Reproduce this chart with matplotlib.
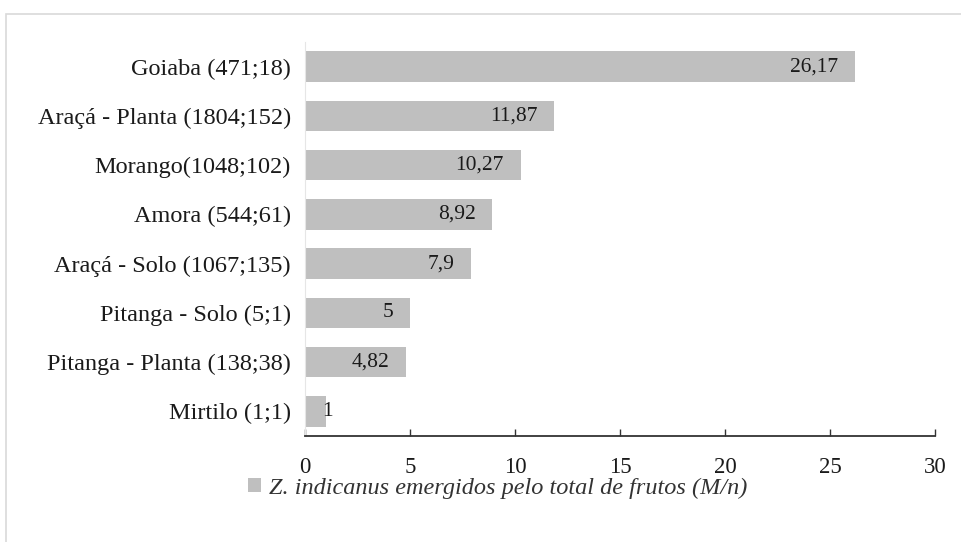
import matplotlib
matplotlib.use("Agg")
import matplotlib.pyplot as plt
from matplotlib.patches import Rectangle
from matplotlib.transforms import ScaledTranslation

categories = ["Goiaba (471;18)", "Araçá - Planta (1804;152)", "Morango(1048;102)",
              "Amora (544;61)", "Araçá - Solo (1067;135)", "Pitanga - Solo (5;1)",
              "Pitanga - Planta (138;38)", "Mirtilo (1;1)"]
values = [26.17, 11.87, 10.27, 8.92, 7.9, 5, 4.82, 1]
value_labels = ["26,17", "11,87", "10,27", "8,92", "7,9", "5", "4,82", "1"]
xticks = [0, 5, 10, 15, 20, 25, 30]
legend_label = "Z. indicanus emergidos pelo total de frutos (M/n)"

plt.rcParams['font.family'] = ['Liberation Serif', 'DejaVu Serif']

fig = plt.figure(figsize=(9.62, 5.42), dpi=100)
# chart frame
fig.patches.append(Rectangle((6/962, -0.05), 1.1, 1 - 14/542 + 0.05, transform=fig.transFigure,
                             fill=False, edgecolor='#D9D9D9', linewidth=1.2))

ax = fig.add_axes([305/962, 106/542, 630/962, 394/542])
ypos = list(range(len(categories)))
ax.barh(ypos, values, height=0.62, color='#BFBFBF')
ax.set_ylim(7.5, -0.5)
ax.set_xlim(0, 30)
ax.set_xticks(xticks)
ax.set_xticklabels([str(t) for t in xticks], fontsize=16.5, color='#1a1a1a')
ax.set_yticks(ypos)
ax.set_yticklabels(categories, fontsize=17.5, color='#1a1a1a')
ax.tick_params(axis='y', length=0, pad=10)
ax.tick_params(axis='x', direction='in', length=5, width=1, color='#333333', pad=15)
for s in ['top', 'right']:
    ax.spines[s].set_visible(False)
ax.spines['left'].set_color('#E6E6E6')
ax.spines['left'].set_linewidth(0.8)
ax.spines['bottom'].set_color('#333333')
ax.spines['bottom'].set_linewidth(1.3)

texts = []
for y, v, lab in zip(ypos, values, value_labels):
    t = ax.annotate(lab, xy=(v, y), xytext=(-12, 0), textcoords='offset points',
                    ha='right', va='center', fontsize=15.5, color='#1a1a1a')
    texts.append(t)

# keep labels of very short bars from crossing the axis start (Excel-like)
fig.canvas.draw()
renderer = fig.canvas.get_renderer()
ax_left = ax.transData.transform((0, 0))[0]
for t in texts:
    bb = t.get_window_extent(renderer)
    min_left = ax_left + 17
    if bb.x0 < min_left:
        shift_pts = (min_left - bb.x0) * 72 / fig.dpi
        t.set_position((-12 + shift_pts, 0))

handle = Rectangle((0, 0), 1, 1, facecolor='#BFBFBF', edgecolor='none')
fig.legend([handle], [legend_label], loc='center', bbox_to_anchor=(498/962, 1 - 488/542),
           frameon=False, prop={'style': 'italic', 'size': 17.5}, handlelength=0.5,
           handleheight=0.55, handletextpad=0.35, labelcolor='#333333')

fig.savefig("out.png", dpi=100)
